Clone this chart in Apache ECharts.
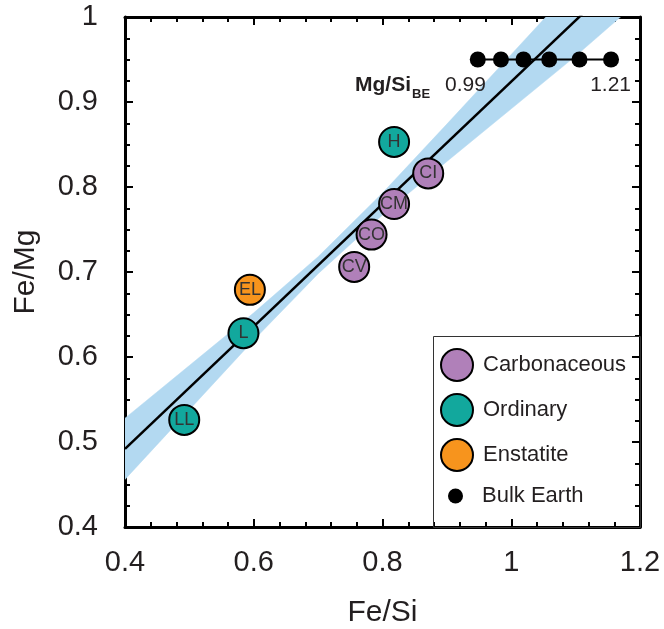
<!DOCTYPE html>
<html>
<head>
<meta charset="utf-8">
<script src="https://cdn.jsdelivr.net/npm/echarts@6/dist/echarts.min.js"></script>
<style>
  html, body { margin: 0; padding: 0; background: #fff; }
  #chart { width: 664px; height: 629px; }
</style>
</head>
<body>
<div id="chart"></div>
<script>
// 碳质球粒陨石
const carbonNames = ['CI', 'CM', 'CO', 'CV'];
const carbonFeSi = [0.871, 0.818, 0.783, 0.756];
const carbonFeMg = [0.816, 0.780, 0.744, 0.706];
// 普通球粒陨石
const ordinaryNames = ['H', 'L', 'LL'];
const ordinaryFeSi = [0.818, 0.584, 0.492];
const ordinaryFeMg = [0.853, 0.628, 0.526];
// 顽火辉石球粒陨石
const enstatiteNames = ['EL'];
const enstatiteFeSi = [0.594];
const enstatiteFeMg = [0.679];
// bulk earth, Mg/Si 0.99 -> 1.21
const bulkFeSi = [0.948, 0.984, 1.019, 1.059, 1.106, 1.155];
const bulkFeMg = [0.95, 0.95, 0.95, 0.95, 0.95, 0.95];
// fit line + band
const fitX = [0.4, 1.2];
const fitY = [0.492, 1.068];
const bandX = [0.4, 0.5, 0.6, 0.7, 0.8, 0.9, 1.0, 1.1, 1.2];
const bandLow = [0.456, 0.538, 0.620, 0.698, 0.767, 0.830, 0.892, 0.954, 1.020];
const bandHigh = [0.528, 0.590, 0.652, 0.718, 0.793, 0.874, 0.956, 1.038, 1.121];

const txt = '#231f20';
const font = 'Liberation Sans, Arial, Helvetica, sans-serif';

const pts = (names, xs, ys) => names.map((n, i) => ({ name: n, value: [xs[i], ys[i]] }));

const meteorite = (name, color, data) => ({
  name: name,
  type: 'scatter',
  z: 5,
  symbol: 'circle',
  symbolSize: 30,
  itemStyle: { color: color, borderColor: '#000', borderWidth: 2, opacity: 1 },
  label: {
    show: true,
    position: 'inside',
    formatter: '{b}',
    color: '#333',
    fontSize: 18,
    fontFamily: font
  },
  emphasis: { disabled: true },
  data: data
});

const tickAxis = (pos, showLabel, min, max, interval, minorSplit) => ({
  type: 'value',
  position: pos,
  min: min,
  max: max,
  interval: interval,
  axisLine: { show: true, onZero: false, lineStyle: { color: '#000', width: 3 } },
  axisTick: { show: true, inside: true, length: 8, lineStyle: { color: '#000', width: 2 } },
  minorTick: { show: true, splitNumber: minorSplit, length: 5, lineStyle: { color: '#000', width: 2 } },
  splitLine: { show: false },
  axisLabel: {
    show: showLabel,
    color: txt,
    fontSize: 29,
    fontFamily: font,
    formatter: v => String(+v.toFixed(2))
  }
});

const xBottom = tickAxis('bottom', true, 0.4, 1.2, 0.2, 5);
xBottom.axisLabel.margin = 21;
xBottom.name = 'Fe/Si';
xBottom.nameLocation = 'middle';
xBottom.nameGap = 71;
xBottom.nameTextStyle = { color: txt, fontSize: 30, fontFamily: font };

const yLeft = tickAxis('left', true, 0.4, 1, 0.1, 4);
yLeft.axisLabel.margin = 27;
yLeft.name = 'Fe/Mg';
yLeft.nameLocation = 'middle';
yLeft.nameGap = 84;
yLeft.nameTextStyle = { color: txt, fontSize: 30, fontFamily: font };

// 置信带：上沿从左到右，下沿从右到左
const renderBand = (params, api) => {
  const upper = bandX.map((x, i) => api.coord([x, bandHigh[i]]));
  const lower = bandX.map((x, i) => api.coord([x, bandLow[i]])).reverse();
  const cs = params.coordSys;
  return {
    type: 'polygon',
    shape: { points: upper.concat(lower) },
    clipPath: { type: 'rect', shape: { x: cs.x, y: cs.y, width: cs.width, height: cs.height } },
    style: { fill: '#b3d9f1', stroke: '#b3d9f1', lineWidth: 0.5 }
  };
};

const chart = echarts.init(document.getElementById('chart'));
chart.setOption({
  backgroundColor: '#fff',
  animation: false,
  grid: { left: 125, right: 24, top: 17, bottom: 102, outerBoundsMode: 'none' },
  xAxis: [xBottom, tickAxis('top', false, 0.4, 1.2, 0.2, 5)],
  yAxis: [yLeft, tickAxis('right', false, 0.4, 1, 0.1, 4)],
  legend: [
    {
      data: ['Carbonaceous', 'Ordinary', 'Enstatite'],
      orient: 'vertical',
      left: 440,
      top: 348,
      padding: 0,
      itemWidth: 32,
      itemHeight: 32,
      itemGap: 11,
      icon: 'circle',
      selectedMode: false,
      textStyle: { color: txt, fontSize: 22, fontFamily: font, padding: [0, 0, 0, 5] }
    },
    {
      data: ['Bulk Earth'],
      orient: 'vertical',
      left: 448,
      top: 485,
      padding: 0,
      itemWidth: 15,
      itemHeight: 15,
      icon: 'circle',
      selectedMode: false,
      textStyle: { color: txt, fontSize: 22, fontFamily: font, padding: [0, 0, 0, 14] }
    }
  ],
  graphic: [
    {
      type: 'rect',
      z: 3,
      shape: { x: 433.5, y: 336.5, width: 207, height: 191 },
      style: { fill: 'rgba(0,0,0,0)', stroke: '#333', lineWidth: 1 }
    },
    {
      type: 'text', x: 355, y: 85, z: 10,
      style: { text: 'Mg/Si', fill: txt, font: 'bold 21px ' + font, verticalAlign: 'middle' }
    },
    {
      type: 'text', x: 412, y: 94, z: 10,
      style: { text: 'BE', fill: txt, font: 'bold 13px ' + font, verticalAlign: 'middle' }
    },
    {
      type: 'text', x: 445, y: 85, z: 10,
      style: { text: '0.99', fill: txt, font: '21px ' + font, verticalAlign: 'middle' }
    },
    {
      type: 'text', x: 631, y: 85, z: 10,
      style: { text: '1.21', fill: txt, font: '21px ' + font, align: 'right', verticalAlign: 'middle' }
    }
  ],
  series: [
    {
      name: 'band',
      type: 'custom',
      z: 1,
      silent: true,
      renderItem: renderBand,
      data: [0]
    },
    {
      name: 'fit',
      type: 'line',
      z: 2,
      symbol: 'none',
      lineStyle: { color: '#000', width: 2.5 },
      silent: true,
      data: fitX.map((x, i) => [x, fitY[i]])
    },
    meteorite('Carbonaceous', '#b080b9', pts(carbonNames, carbonFeSi, carbonFeMg)),
    meteorite('Ordinary', '#12a89d', pts(ordinaryNames, ordinaryFeSi, ordinaryFeMg)),
    meteorite('Enstatite', '#f7941d', pts(enstatiteNames, enstatiteFeSi, enstatiteFeMg)),
    {
      name: 'Bulk Earth',
      type: 'line',
      z: 4,
      symbol: 'circle',
      symbolSize: 16,
      showAllSymbol: true,
      itemStyle: { color: '#000' },
      lineStyle: { color: '#000', width: 2 },
      emphasis: { disabled: true },
      data: bulkFeSi.map((x, i) => [x, bulkFeMg[i]])
    }
  ]
});
</script>
</body>
</html>
